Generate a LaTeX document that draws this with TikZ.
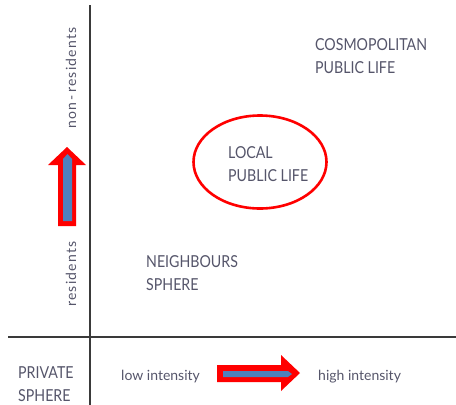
\documentclass[tikz,border=0pt]{standalone}
\usepackage{fontspec}
\setmainfont{Lato}
\newfontfamily\capsfont[FakeStretch=0.86]{Lato}
\newfontfamily\spacedfont[LetterSpace=9]{Lato}
\usetikzlibrary{shapes.geometric}
\definecolor{txtgray}{HTML}{55556A}
\definecolor{axisgray}{HTML}{3A3A3A}
\definecolor{arrowred}{HTML}{FF0000}
\definecolor{arrowblue}{HTML}{4F81BD}
\begin{document}
\begin{tikzpicture}[x=1pt,y=-1pt,
  lbl/.style={inner sep=0pt, text=txtgray, font=\capsfont\fontsize{16.5}{22.5}\selectfont, align=left, anchor=base west},
  sml/.style={inner sep=0pt, text=txtgray, font=\fontsize{14}{17}\selectfont, anchor=base west},
  rot/.style={inner sep=0pt, text=txtgray, font=\spacedfont\fontsize{14}{17}\selectfont, anchor=base west, rotate=90},
  axisline/.style={draw=axisgray, line width=1.4pt},
  redarrow/.style={fill=arrowred, draw=none},
  bluearrow/.style={fill=arrowblue, draw=none}]
\useasboundingbox (0,0) rectangle (456,405);
% axes
\coordinate (vtop) at (90,5);
\coordinate (vbot) at (90,405);
\coordinate (hleft) at (8,337);
\coordinate (hright) at (456,337);
\draw[axisline] (vtop) -- (vbot);
\draw[axisline] (hleft) -- (hright);
% vertical arrow
\fill[redarrow] (58,226) -- (58,165) -- (48,165) -- (67,147) -- (86,165) -- (76,165) -- (76,226) -- cycle;
\fill[bluearrow] (63,221) -- (63,159) -- (67.5,154) -- (72,159) -- (72,221) -- cycle;
% horizontal arrow
\fill[redarrow] (217,365) -- (281,365) -- (281,355) -- (300,373) -- (281,391) -- (281,382) -- (217,382) -- cycle;
\fill[bluearrow] (223,371) -- (288,371) -- (292,374) -- (288,377) -- (223,377) -- cycle;
% ellipse
\node[draw=arrowred, line width=2.6pt, ellipse, minimum width=133pt, minimum height=93pt, inner sep=0pt] (local) at (260,162) {};
% labels (anchor = baseline of last line)
\node[lbl] (localtxt) at (228,181) {LOCAL\\PUBLIC LIFE};
\node[lbl] (cosmo) at (315,73) {COSMOPOLITAN\\PUBLIC LIFE};
\node[lbl] (neigh) at (146,290) {NEIGHBOURS\\SPHERE};
\node[lbl] (private) at (18,401) {PRIVATE\\SPHERE};
\node[sml] (low) at (121,380) {low intensity};
\node[sml] (high) at (318,380) {high intensity};
\node[rot] (nonres) at (76,129) {non\,-\,residents};
\node[rot] (res) at (76,307) {residents};
\end{tikzpicture}
\end{document}
